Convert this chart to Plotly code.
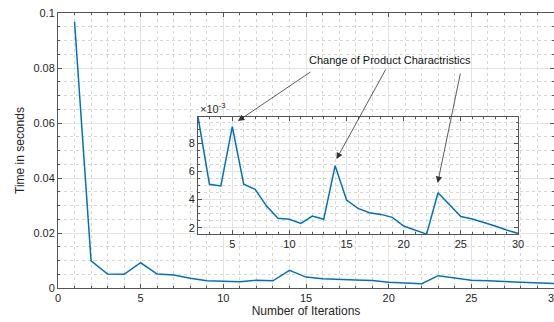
import plotly.graph_objects as go

iterations = list(range(1, 31))
time_s = [0.0968, 0.00987, 0.00509, 0.00497, 0.00918, 0.00509, 0.00473, 0.00354,
          0.00267, 0.00260, 0.00231, 0.00283, 0.00260, 0.00641, 0.00397, 0.00338,
          0.00307, 0.00295, 0.00274, 0.00212, 0.00184, 0.00155, 0.00449, 0.00361,
          0.00280, 0.00262, 0.00238, 0.00212, 0.00184, 0.00160]

inset_x = iterations[1:]
inset_y = [v * 1000 for v in time_s[1:]]

BLUE = "#0072BD"
FONT = "Liberation Sans, Arial, Helvetica, sans-serif"
AX = "#555555"
GRID = "#e3e3e3"
MGRID = "#d6d6d6"

PW = 496.0

fig = go.Figure()
fig.add_trace(go.Scatter(x=iterations, y=time_s, mode="lines",
                         line=dict(color=BLUE, width=1.5), xaxis="x", yaxis="y",
                         showlegend=False))
fig.add_trace(go.Scatter(x=inset_x, y=inset_y, mode="lines",
                         line=dict(color=BLUE, width=1.5), xaxis="x2", yaxis="y2",
                         showlegend=False))

def axstyle(**kw):
    d = dict(showline=True, linecolor=AX, linewidth=1, mirror="ticks",
             ticks="inside", ticklen=4, tickcolor=AX, tickwidth=0.8,
             showgrid=True, gridcolor=GRID, gridwidth=0.8, zeroline=False,
             automargin=False, ticklabeloverflow="allow",
             tickfont=dict(family=FONT, size=11, color="#262626"))
    d.update(kw)
    return d

def minor(dt):
    return dict(dtick=dt, showgrid=True, griddash="dot", gridcolor=MGRID, gridwidth=0.8,
                ticks="inside", ticklen=2, tickcolor=AX)

fig.update_layout(
    width=554, height=322,
    margin=dict(l=58, r=0, t=13, b=34),
    paper_bgcolor="white", plot_bgcolor="white",
    font=dict(family=FONT, size=11, color="#262626"),
    xaxis=axstyle(range=[0, 30], dtick=5, tick0=0, domain=[0, 1], minor=minor(1),
                  title=dict(text="Number of Iterations", standoff=2,
                             font=dict(family=FONT, size=12, color="#262626"))),
    yaxis=axstyle(range=[0, 0.1], dtick=0.02, tick0=0, domain=[0, 1], minor=minor(0.005),
                  title=dict(text="Time in seconds", standoff=6,
                             font=dict(family=FONT, size=12, color="#262626"))),
    xaxis2=axstyle(range=[2, 30], dtick=5, tick0=0,
                   domain=[(198 - 58) / PW, (518 - 58) / PW], anchor="y2", minor=minor(1)),
    yaxis2=axstyle(range=[1.55, 9.87], dtick=2, tick0=0, domain=[0.196, 0.622],
                   anchor="x2", minor=minor(0.5)),
)

fig.add_annotation(text="×10<sup>-3</sup>", xref="paper", yref="paper",
                   x=(198 - 58) / PW, y=0.622, xanchor="left", yanchor="bottom",
                   showarrow=False, font=dict(family=FONT, size=11, color="#262626"))

fig.add_annotation(text="Change of Product Charactristics", xref="paper", yref="paper",
                   x=(389.5 - 58) / PW, y=(288 - 60) / 275, xanchor="center", yanchor="middle",
                   showarrow=False, font=dict(family=FONT, size=11, color="#111111"))

arrows = [(5.49, 9.58, 74, -50), (14.12, 6.88, 50, -91), (22.97, 5.18, 23, -111)]
for ax_x, ax_y, dx, dy in arrows:
    fig.add_annotation(x=ax_x, y=ax_y, xref="x2", yref="y2", text="",
                       showarrow=True, ax=dx, ay=dy, arrowhead=2, arrowsize=1.6,
                       arrowwidth=0.8, arrowcolor="#333333", standoff=0)

fig.write_html("out.html")
